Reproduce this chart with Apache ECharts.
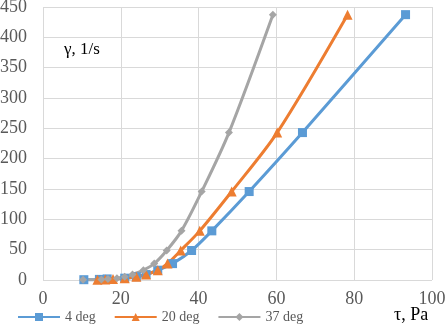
<!DOCTYPE html>
<html>
<head>
<meta charset="utf-8">
<script src="https://cdn.jsdelivr.net/npm/echarts@6/dist/echarts.min.js"></script>
<style>
  html, body { margin: 0; padding: 0; background: #fff; }
  #chart { width: 446px; height: 331px; }
</style>
</head>
<body>
<div id="chart"></div>
<script>
// shear rate, 1/s (same for all series)
var rates = [0.5, 1.0, 1.8, 3.0, 5.4, 9.0, 16.2, 27.0, 48.6, 81.0, 145.8, 243.0, 437.4];
// shear stress, Pa
var tau4 = [10.5, 14.5, 16.5, 21, 24, 26.5, 29.5, 33.3, 38.2, 43.4, 53, 66.7, 93.2];
var tau20 = [14, 16, 18, 21, 24, 26.5, 29.5, 32, 35.4, 40.3, 48.5, 60.2, 78.3];
var tau37 = [10.3, 15, 16.7, 19, 21, 23, 25.8, 28.6, 31.8, 35.6, 40.8, 47.8, 59.1];
var names = ['4 deg', '20 deg', '37 deg'];
var xTicks = [0, 20, 40, 60, 80, 100];
var yTicks = [0, 50, 100, 150, 200, 250, 300, 350, 400, 450];

function pairs(xs) {
    return xs.map(function (x, i) { return [x, rates[i]]; });
}

var chart = echarts.init(document.getElementById('chart'));
var font = '"Liberation Serif", "Times New Roman", serif';
var option = {
    animation: false,
    textStyle: { fontFamily: font },
    grid: { left: 43, right: 14, top: 7, bottom: 51, outerBoundsMode: 'none' },
    legend: {
        left: 12,
        bottom: 2,
        itemWidth: 42,
        itemHeight: 10,
        itemGap: 18,
        textStyle: { fontFamily: font, fontSize: 14, color: '#595959' },
        data: names
    },
    graphic: [
        { type: 'text', left: 64, top: 41, style: { text: 'γ, 1/s', font: '17px "Liberation Serif", serif', fill: '#000' } },
        { type: 'text', left: 394, top: 306, style: { text: 'τ, Pa', font: '18px "Liberation Serif", serif', fill: '#000' } }
    ],
    xAxis: {
        type: 'value',
        min: xTicks[0],
        max: xTicks[xTicks.length - 1],
        interval: 20,
        axisLine: { show: false },
        axisTick: { show: false },
        axisLabel: { fontFamily: font, fontSize: 18, color: '#595959', margin: 10 },
        splitLine: { show: true, lineStyle: { color: '#d9d9d9', width: 1 } }
    },
    yAxis: {
        type: 'value',
        min: yTicks[0],
        max: yTicks[yTicks.length - 1],
        interval: 50,
        axisLine: { show: false },
        axisTick: { show: false },
        axisLabel: { fontFamily: font, fontSize: 18, color: '#595959', margin: 16 },
        splitLine: { show: true, lineStyle: { color: '#d9d9d9', width: 1 } }
    },
    series: [
        {
            name: names[0], type: 'line', data: pairs(tau4), smooth: 0.3,
            symbol: 'rect', symbolSize: 9,
            lineStyle: { width: 3, color: '#5b9bd5' },
            itemStyle: { color: '#5b9bd5' }
        },
        {
            name: names[1], type: 'line', data: pairs(tau20), smooth: 0.3,
            symbol: 'triangle', symbolSize: 10,
            lineStyle: { width: 3, color: '#ed7d31' },
            itemStyle: { color: '#ed7d31' }
        },
        {
            name: names[2], type: 'line', data: pairs(tau37), smooth: 0.3,
            symbol: 'diamond', symbolSize: 8,
            lineStyle: { width: 3, color: '#a5a5a5' },
            itemStyle: { color: '#a5a5a5' }
        }
    ]
};
chart.setOption(option);
</script>
</body>
</html>
